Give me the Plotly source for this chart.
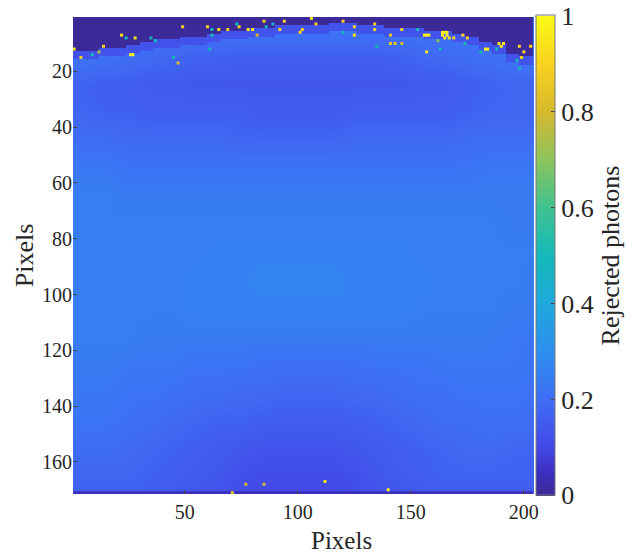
import plotly.graph_objects as go

FONT = "Liberation Serif"
TXT = "#262626"

# Parula-like colours
parula = [[0.0, "#3b2a98"], [0.05, "#3d2fc0"], [0.1, "#4348e6"], [0.2, "#3f6df5"],
          [0.3, "#2d8fee"], [0.4, "#1fa8db"], [0.5, "#14b9b9"], [0.6, "#3fc28f"],
          [0.7, "#8cc35c"], [0.8, "#d6b92e"], [0.9, "#f8d21f"], [1.0, "#f9fb15"]]

# Regional mean of rejected photons, estimated by eye (rows every 10 px, cols every 10 px)
col_centers = [5, 15, 25, 35, 45, 55, 65, 75, 85, 95, 105, 115, 125, 135, 145, 155, 165, 175, 185, 195, 205]
row_centers = [5, 15, 25, 35, 45, 55, 65, 75, 85, 95, 105, 115, 125, 135, 145, 155, 165, 175]
region_means = [
    [.22, .22, .22, .22, .22, .22, .22, .22, .22, .22, .22, .22, .22, .22, .22, .22, .22, .22, .22, .22, .22],
    [.22, .21, .20, .19, .18, .17, .17, .16, .16, .16, .16, .16, .16, .16, .17, .18, .19, .20, .21, .22, .23],
    [.17, .16, .16, .15, .15, .14, .14, .14, .14, .14, .14, .14, .14, .14, .14, .15, .15, .16, .17, .18, .18],
    [.18, .17, .17, .16, .16, .16, .16, .16, .15, .15, .15, .15, .16, .16, .16, .16, .16, .17, .18, .18, .18],
    [.20, .20, .19, .19, .19, .19, .19, .18, .18, .18, .18, .18, .19, .19, .19, .19, .19, .20, .20, .20, .20],
    [.23, .23, .22, .22, .22, .22, .22, .22, .22, .22, .22, .22, .22, .22, .22, .22, .22, .22, .23, .23, .23],
    [.25, .25, .24, .24, .24, .24, .24, .24, .24, .24, .24, .24, .24, .24, .24, .24, .24, .24, .24, .24, .24],
    [.25, .25, .25, .25, .25, .25, .25, .25, .25, .25, .25, .25, .25, .25, .25, .25, .25, .25, .25, .24, .24],
    [.25, .25, .25, .25, .25, .25, .26, .26, .26, .26, .26, .26, .26, .26, .26, .25, .25, .25, .25, .25, .25],
    [.25, .25, .25, .25, .25, .26, .26, .26, .27, .27, .27, .27, .26, .26, .26, .26, .25, .25, .25, .25, .24],
    [.25, .25, .25, .25, .25, .26, .26, .26, .26, .26, .26, .26, .26, .26, .26, .25, .25, .25, .25, .24, .24],
    [.25, .25, .25, .24, .24, .24, .24, .24, .24, .24, .24, .24, .24, .24, .24, .24, .24, .24, .24, .23, .23],
    [.24, .24, .23, .23, .23, .22, .22, .22, .21, .21, .21, .21, .21, .22, .22, .22, .23, .23, .23, .23, .22],
    [.23, .23, .22, .22, .21, .20, .20, .19, .19, .18, .18, .18, .19, .19, .20, .21, .21, .22, .22, .22, .21],
    [.22, .22, .21, .20, .19, .18, .17, .17, .16, .16, .16, .16, .16, .17, .18, .19, .20, .20, .21, .21, .20],
    [.20, .20, .19, .18, .17, .16, .15, .14, .13, .13, .13, .13, .14, .15, .16, .17, .18, .19, .19, .18, .18],
    [.18, .18, .18, .17, .16, .15, .14, .12, .11, .11, .11, .11, .12, .14, .15, .16, .17, .17, .17, .17, .17],
    [.16, .16, .16, .15, .14, .13, .12, .11, .10, .10, .10, .10, .11, .12, .13, .14, .15, .15, .15, .15, .15],
]

# Edge of the empty top band: first populated row for every 6-pixel column
edge_cols = list(range(3, 205, 6))
edge_rows = [13, 13, 12, 12, 11, 10, 9, 9, 8, 8, 7, 6, 6, 5, 5, 4, 4, 4, 4, 3, 3,
             4, 4, 5, 5, 5, 6, 6, 7, 8, 10, 11, 14, 15]
band_rows = list(range(1, 22))
FRINGE_ROWS = 3
FRINGE_VALUE = 0.13
band_z = [[0 if r < e else (FRINGE_VALUE if r < e + FRINGE_ROWS else None) for e in edge_rows]
          for r in band_rows]

# Near-empty last rows of the image
bottom_rows = [171]
bottom_z = [[.05] * len(edge_cols)]

# Isolated outlying pixels
pixel_x = [1, 4, 14, 12, 22, 28, 26, 27, 49, 60, 65, 69, 74, 78, 80, 82, 85, 94, 92, 102, 101, 106, 108, 47,
           120, 125, 134, 134, 125, 146, 141, 156, 157, 158, 141, 143, 146, 157, 164, 165, 166, 164, 166, 165,
           167, 169, 173, 175, 162, 183, 184, 189, 191, 190, 198, 200, 203, 199,
           71, 77, 85, 112, 140,
           24, 9, 35, 37, 62, 62, 73, 89, 86, 45, 61, 163, 174, 181, 188, 197, 198, 120, 153, 135]
pixel_y = [12, 15, 11, 13, 7, 8, 14, 14, 4, 4, 5, 5, 4, 5, 5, 7, 2, 2, 5, 5, 6, 1, 3, 17,
           2, 4, 3, 5, 7, 5, 7, 7, 7, 7, 10, 10, 10, 13, 6, 6, 6, 7, 7, 8,
           8, 8, 7, 8, 9, 12, 12, 10, 10, 11, 11, 13, 11, 15,
           171, 168, 168, 167, 170,
           8, 14, 8, 9, 5, 7, 3, 3, 4, 15, 12, 12, 10, 13, 12, 16, 19, 6, 5, 11]
pixel_v = [.95, .9, .9, .75, .95, .95, .98, .98, .9, .9, .95, .9, .9, .95, .95, .8, .9, .9, .9, .9, .9, .95, .9, .8,
           .9, .9, .9, .9, .95, .9, .85, .98, .98, .98, .85, .85, .8, .95, .98, .98, .98, .98, .98, .98,
           .95, .9, .9, .9, .7, .98, .98, .95, .95, .95, .9, .9, .9, .9,
           .85, .8, .8, .95, .98,
           .5, .5, .5, .5, .5, .5, .5, .45, .5, .5, .5, .5, .5, .5, .5, .5, .5, .5, .5, .5]

x_ticks = [50, 100, 150, 200]
y_ticks = [20, 40, 60, 80, 100, 120, 140, 160]
cbar_ticks = [0.0005, 0.2, 0.4, 0.6, 0.8, 0.9995]
cbar_labels = ["0", "0.2", "0.4", "0.6", "0.8", "1"]

fig = go.Figure()
fig.add_trace(go.Heatmap(x=col_centers, y=row_centers, z=region_means, coloraxis="coloraxis",
                         zsmooth="best", hoverinfo="skip"))
fig.add_trace(go.Heatmap(x=edge_cols, y=band_rows, z=band_z, coloraxis="coloraxis",
                         hoverongaps=False, hoverinfo="skip"))
fig.add_trace(go.Heatmap(x=edge_cols, y=bottom_rows, z=bottom_z, coloraxis="coloraxis", dy=2,
                         hoverinfo="skip"))
fig.add_trace(go.Scatter(x=pixel_x, y=pixel_y, mode="markers", hoverinfo="skip",
                         marker=dict(symbol="square", size=3, color=pixel_v, coloraxis="coloraxis",
                                     line=dict(width=0))))

fig.update_layout(
    width=639, height=556, paper_bgcolor="white", plot_bgcolor="#3b2a98", showlegend=False,
    margin=dict(l=73, r=105, t=17, b=62, autoexpand=False),
    font=dict(family=FONT, color=TXT),
    coloraxis=dict(
        cmin=0, cmax=1, colorscale=parula,
        colorbar=dict(
            x=1.004, xanchor="left", thickness=19, len=1.006, y=0.5, yanchor="middle", xpad=0, ypad=0,
            outlinewidth=1, outlinecolor="#777777",
            tickmode="array", tickvals=cbar_ticks, ticktext=cbar_labels,
            ticks="inside", ticklen=4, tickcolor="#444444",
            tickfont=dict(family=FONT, size=26, color=TXT),
            title=dict(text="Rejected photons", side="right", font=dict(family=FONT, size=26, color=TXT)),
        ),
    ),
    xaxis=dict(range=[0.5, 204.5], tickvals=x_ticks, ticks="inside", ticklen=4, tickcolor="#444444",
               ticklabelstandoff=4,
               tickfont=dict(family=FONT, size=20, color=TXT), showgrid=False, zeroline=False),
    yaxis=dict(range=[171.5, 0.5], tickvals=y_ticks, ticks="inside", ticklen=4, tickcolor="#444444",
               tickfont=dict(family=FONT, size=20, color=TXT), showgrid=False, zeroline=False,
               title=dict(text="Pixels", font=dict(family=FONT, size=26, color=TXT), standoff=0)),
    annotations=[dict(text="Pixels", xref="paper", yref="paper", x=0.583, y=-0.0965, xanchor="center",
                      yanchor="middle", showarrow=False, font=dict(family=FONT, size=25, color=TXT))],
)
fig.write_html("out.html", post_script="document.body.style.margin='0';",
               config={"displayModeBar": False})
